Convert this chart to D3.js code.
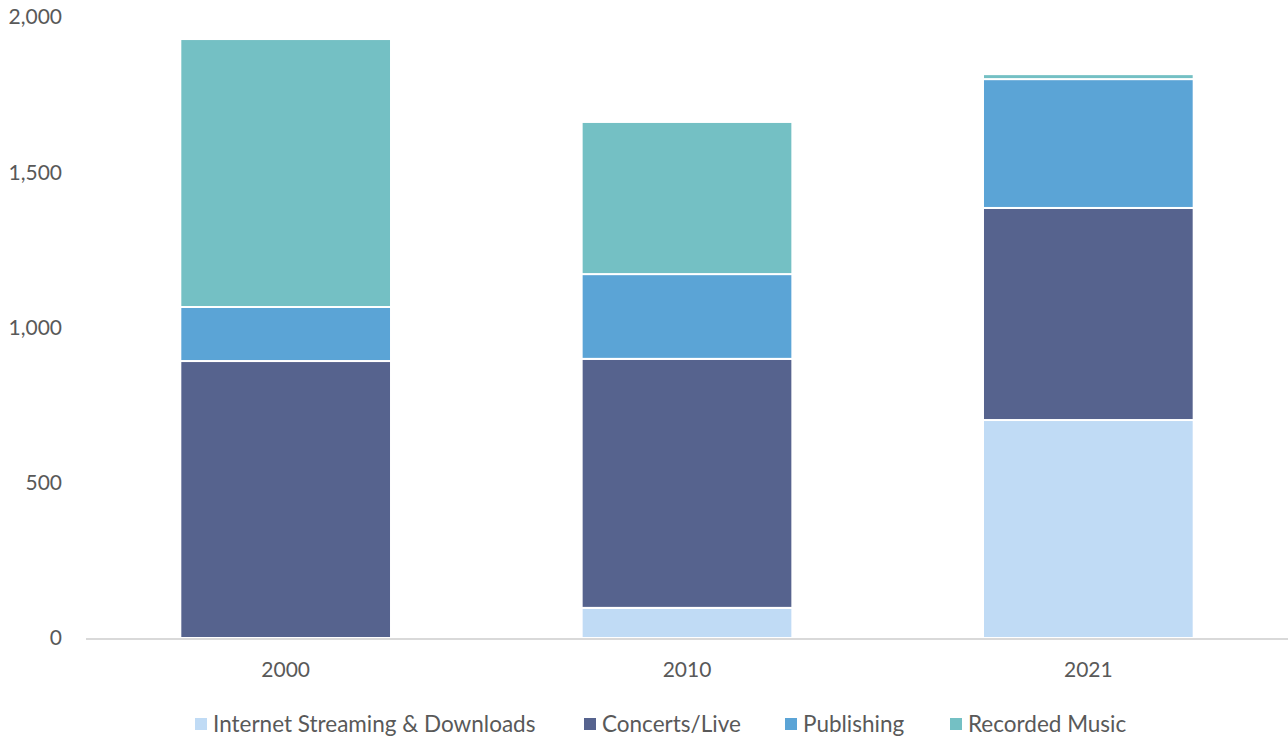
<!DOCTYPE html>
<html><head><meta charset="utf-8">
<script src="https://cdn.jsdelivr.net/npm/d3@7"></script>
<style>body{margin:0;background:#fff;} text{font-family:"Lato","Noto Sans",sans-serif;fill:#595959;}</style>
</head><body><svg id="c" width="1288" height="738"></svg>
<script>
const years = ["2000", "2010", "2021"];
const seriesNames = ["Internet Streaming & Downloads", "Concerts/Live", "Publishing", "Recorded Music"];
const streaming = [0, 97, 702];
const concerts = [892, 802, 683];
const publishing = [174, 273, 415];
const recorded = [863, 490, 16];
const yTicks = [0, 500, 1000, 1500, 2000];
const colors = ["#c0dbf5", "#56638e", "#5ba4d6", "#74c0c4"];

const rows = years.map((y, i) => ({year: y, s0: streaming[i], s1: concerts[i], s2: publishing[i], s3: recorded[i]}));
const stack = d3.stack().keys(["s0", "s1", "s2", "s3"])(rows);

const svg = d3.select("#c");
const x = d3.scaleBand().domain(years).range([86, 1288]).paddingInner(0.475).paddingOuter(0.235);
const y = d3.scaleLinear().domain([0, 2000]).range([638, 17]);

svg.append("g").selectAll("text").data(yTicks).join("text")
  .attr("x", 62).attr("y", d => y(d)).attr("dy", "0.35em")
  .attr("text-anchor", "end").attr("font-size", 21).text(d => d3.format(",")(d));

stack.forEach((layer, li) => {
  svg.append("g").selectAll("rect").data(layer).join("rect")
    .attr("x", d => x(d.data.year)).attr("width", x.bandwidth())
    .attr("y", d => y(d[1])).attr("height", d => Math.max(0, y(d[0]) - y(d[1])))
    .attr("fill", colors[li]).attr("stroke", "#fff").attr("stroke-width", 2);
});

svg.append("line").attr("x1", 86).attr("x2", 1288).attr("y1", y(0) + 1).attr("y2", y(0) + 1)
  .attr("stroke", "#d9d9d9").attr("stroke-width", 2);

svg.append("g").selectAll("text").data(years).join("text")
  .attr("x", d => x(d) + x.bandwidth() / 2).attr("y", 670).attr("dy", "0.35em")
  .attr("text-anchor", "middle").attr("font-size", 21).text(d => d);

const legX = [195, 584, 785, 950];
const leg = svg.append("g");
seriesNames.forEach((n, i) => {
  leg.append("rect").attr("x", legX[i]).attr("y", 718).attr("width", 12).attr("height", 12).attr("fill", colors[i]);
  leg.append("text").attr("x", legX[i] + 18).attr("y", 724).attr("dy", "0.35em").attr("font-size", 22.5).text(n);
});
</script></body></html>
